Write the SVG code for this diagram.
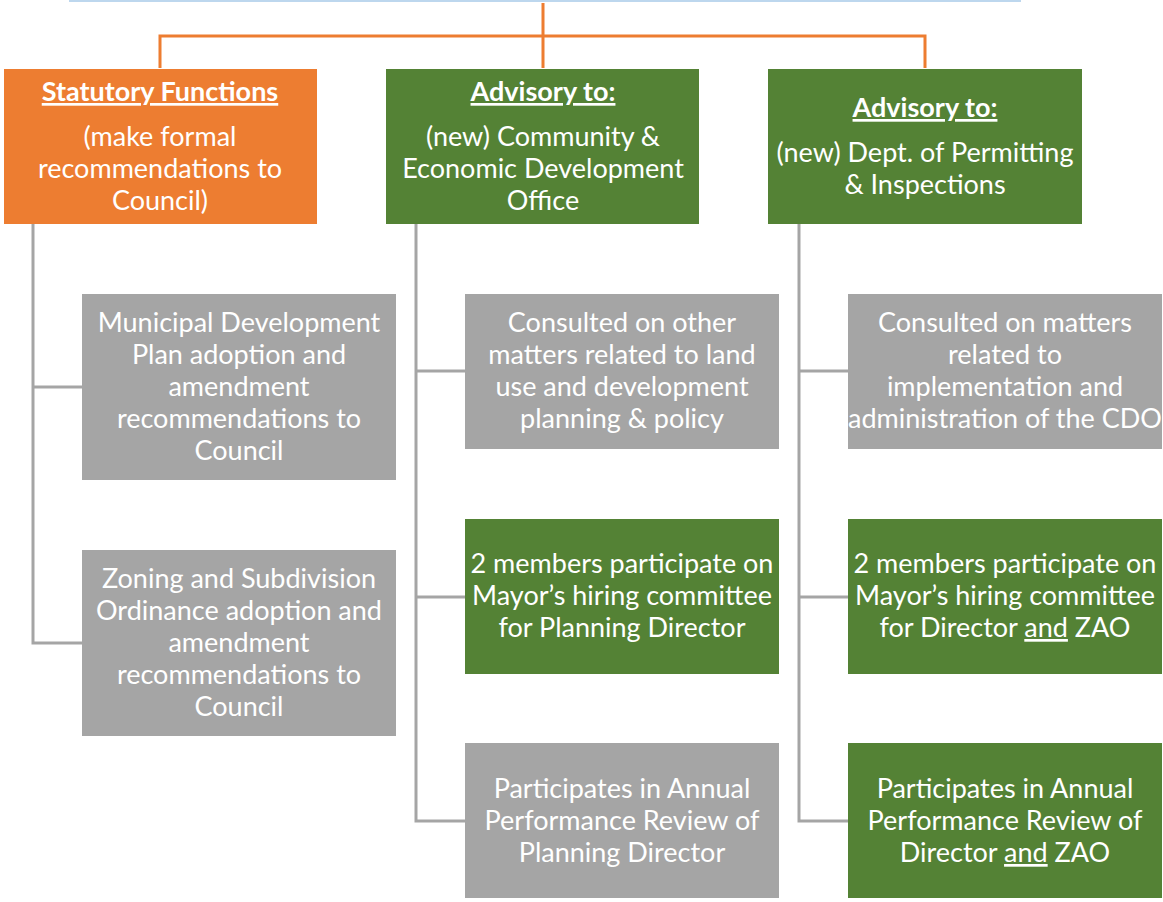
<svg xmlns="http://www.w3.org/2000/svg" width="1163" height="902" viewBox="0 0 1163 902">
<style>
text{font-family:Lato,"Noto Sans",sans-serif;font-size:27px;fill:#fff;text-anchor:middle}
.b{font-weight:bold;text-decoration:underline}
.u{text-decoration:underline}
.or{fill:#ED7D31}
.gr{fill:#548235}
.gy{fill:#A5A5A5}
.c{stroke:#A5A5A5;stroke-width:3;fill:none}
.co{stroke:#ED7D31;stroke-width:3;fill:none}
</style>
<rect width="1163" height="902" fill="#fff"/>
<line x1="69" y1="1" x2="1021" y2="1" stroke="#BDD7EE" stroke-width="2"/>
<g id="connectors">
<path class="co" d="M543 3V68M160 68V36H925V68"/>
<path class="c" d="M33 224V643H82M33 387H82"/>
<path class="c" d="M416 224V821H465M416 371H465M416 597H465"/>
<path class="c" d="M799 224V821H848M799 371H848M799 597H848"/>
</g>
<g id="statutory">
<rect class="or" x="4" y="69" width="313" height="155"/>
<text class="b" x="160" y="101">Statutory Functions</text>
<text x="160" y="146">(make formal</text>
<text x="160" y="178">recommendations to</text>
<text x="160" y="210">Council)</text>
</g>
<g id="advisory-ced">
<rect class="gr" x="386" y="69" width="313" height="155"/>
<text class="b" x="543" y="101">Advisory to:</text>
<text x="543" y="146">(new) Community &amp;</text>
<text x="543" y="178">Economic Development</text>
<text x="543" y="210">Office</text>
</g>
<g id="advisory-dpi">
<rect class="gr" x="768" y="69" width="314" height="155"/>
<text class="b" x="925" y="117">Advisory to:</text>
<text x="925" y="162">(new) Dept. of Permitting</text>
<text x="925" y="194">&amp; Inspections</text>
</g>
<g id="mdp">
<rect class="gy" x="82" y="294" width="314" height="186"/>
<text x="239" y="332">Municipal Development</text>
<text x="239" y="364">Plan adoption and</text>
<text x="239" y="396">amendment</text>
<text x="239" y="428">recommendations to</text>
<text x="239" y="460">Council</text>
</g>
<g id="zso">
<rect class="gy" x="82" y="550" width="314" height="186"/>
<text x="239" y="588">Zoning and Subdivision</text>
<text x="239" y="620">Ordinance adoption and</text>
<text x="239" y="652">amendment</text>
<text x="239" y="684">recommendations to</text>
<text x="239" y="716">Council</text>
</g>
<g id="consulted-land">
<rect class="gy" x="465" y="294" width="314" height="155"/>
<text x="622" y="332">Consulted on other</text>
<text x="622" y="364">matters related to land</text>
<text x="622" y="396">use and development</text>
<text x="622" y="428">planning &amp; policy</text>
</g>
<g id="hiring-planning">
<rect class="gr" x="465" y="519" width="314" height="155"/>
<text x="622" y="573">2 members participate on</text>
<text x="622" y="605">Mayor’s hiring committee</text>
<text x="622" y="637">for Planning Director</text>
</g>
<g id="review-planning">
<rect class="gy" x="465" y="743" width="314" height="155"/>
<text x="622" y="798">Participates in Annual</text>
<text x="622" y="830">Performance Review of</text>
<text x="622" y="862">Planning Director</text>
</g>
<g id="consulted-cdo">
<rect class="gy" x="848" y="294" width="314" height="155"/>
<text x="1005" y="332">Consulted on matters</text>
<text x="1005" y="364">related to</text>
<text x="1005" y="396">implementation and</text>
<text x="1005" y="428">administration of the CDO</text>
</g>
<g id="hiring-director">
<rect class="gr" x="848" y="519" width="314" height="155"/>
<text x="1005" y="573">2 members participate on</text>
<text x="1005" y="605">Mayor’s hiring committee</text>
<text x="1005" y="637">for Director <tspan class="u">and</tspan> ZAO</text>
</g>
<g id="review-director">
<rect class="gr" x="848" y="743" width="314" height="155"/>
<text x="1005" y="798">Participates in Annual</text>
<text x="1005" y="830">Performance Review of</text>
<text x="1005" y="862">Director <tspan class="u">and</tspan> ZAO</text>
</g>
</svg>
